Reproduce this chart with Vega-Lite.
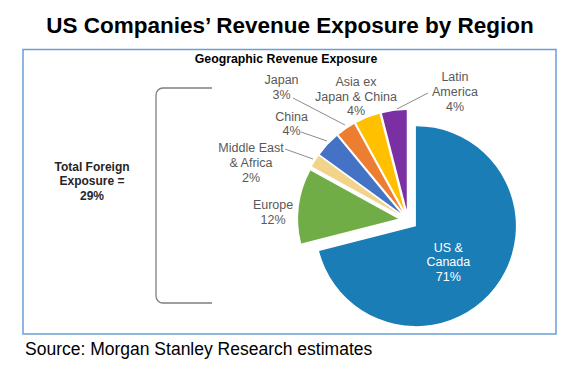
{
  "$schema": "https://vega.github.io/schema/vega-lite/v6.json",
  "width": 572,
  "height": 369,
  "autosize": {"type": "none"},
  "padding": 0,
  "background": "white",
  "config": {"view": {"stroke": null}, "font": "Liberation Sans"},
  "data": {
    "values": [
      {"idx": 1, "region": "US & Canada", "share": 71, "label": "US &\nCanada\n71%"},
      {"idx": 2, "region": "Europe", "share": 12, "label": "Europe\n12%"},
      {"idx": 3, "region": "Middle East & Africa", "share": 2, "label": "Middle East\n& Africa\n2%"},
      {"idx": 4, "region": "China", "share": 4, "label": "China\n4%"},
      {"idx": 5, "region": "Japan", "share": 3, "label": "Japan\n3%"},
      {"idx": 6, "region": "Asia ex Japan & China", "share": 4, "label": "Asia ex\nJapan & China\n4%"},
      {"idx": 7, "region": "Latin America", "share": 4, "label": "Latin\nAmerica\n4%"}
    ]
  },
  "layer": [
    {
      "data": {"values": [{}]},
      "mark": {"type": "rect", "filled": false, "stroke": "#6b9fd4", "strokeWidth": 1.5},
      "encoding": {
        "x": {"datum": 23, "type": "quantitative", "scale": {"domain": [0, 572], "nice": false, "zero": false}, "axis": null},
        "x2": {"datum": 556},
        "y": {"datum": 49.5, "type": "quantitative", "scale": {"domain": [0, 369], "nice": false, "zero": false, "reverse": true}, "axis": null},
        "y2": {"datum": 334}
      }
    },
    {
      "data": {"values": [{}]},
      "mark": {"type": "rect", "filled": false, "stroke": "#7f7f7f", "strokeWidth": 1.3, "cornerRadiusTopLeft": 7, "cornerRadiusBottomLeft": 7, "strokeDash": [49, 215, 320]},
      "encoding": {
        "x": {"datum": 156, "type": "quantitative"},
        "x2": {"datum": 212},
        "y": {"datum": 88, "type": "quantitative"},
        "y2": {"datum": 303}
      }
    },
    {
      "data": {"values": [{}]},
      "mark": {"type": "rule", "stroke": "#8c8c8c", "strokeWidth": 1},
      "encoding": {"x": {"datum": 293, "type": "quantitative"}, "y": {"datum": 98, "type": "quantitative"}, "x2": {"datum": 345}, "y2": {"datum": 125}}
    },
    {
      "data": {"values": [{}]},
      "mark": {"type": "rule", "stroke": "#8c8c8c", "strokeWidth": 1},
      "encoding": {"x": {"datum": 301, "type": "quantitative"}, "y": {"datum": 132, "type": "quantitative"}, "x2": {"datum": 327}, "y2": {"datum": 141}}
    },
    {
      "data": {"values": [{}]},
      "mark": {"type": "rule", "stroke": "#8c8c8c", "strokeWidth": 1},
      "encoding": {"x": {"datum": 285, "type": "quantitative"}, "y": {"datum": 149, "type": "quantitative"}, "x2": {"datum": 313}, "y2": {"datum": 159}}
    },
    {
      "data": {"values": [{}]},
      "mark": {"type": "rule", "stroke": "#8c8c8c", "strokeWidth": 1},
      "encoding": {"x": {"datum": 428, "type": "quantitative"}, "y": {"datum": 93, "type": "quantitative"}, "x2": {"datum": 397}, "y2": {"datum": 109}}
    },
    {
      "mark": {
        "type": "arc",
        "outerRadius": 100,
        "xOffset": {"expr": "10*sin(PI*(datum.share_start+datum.share_end)/100)"},
        "yOffset": {"expr": "-10*cos(PI*(datum.share_start+datum.share_end)/100)"}
      },
      "encoding": {
        "theta": {"field": "share", "type": "quantitative", "stack": true},
        "order": {"field": "idx", "type": "quantitative"},
        "color": {
          "field": "region", "type": "nominal", "legend": null,
          "scale": {
            "domain": ["US & Canada", "Europe", "Middle East & Africa", "China", "Japan", "Asia ex Japan & China", "Latin America"],
            "range": ["#1b7db5", "#70ad47", "#f1d38a", "#4472c4", "#ed7d31", "#ffc000", "#7a30a3"]
          }
        },
        "x": {"datum": 408, "type": "quantitative"},
        "y": {"datum": 220, "type": "quantitative"}
      }
    },
    {
      "mark": {"type": "text", "radius": 58, "dx": -5.5, "dy": -7.8, "fontSize": 12.5, "lineHeight": 14.7, "lineBreak": "\n", "fill": "white", "align": "center", "baseline": "middle"},
      "encoding": {
        "theta": {"field": "share", "type": "quantitative", "stack": true},
        "order": {"field": "idx", "type": "quantitative"},
        "x": {"datum": 408, "type": "quantitative"},
        "y": {"datum": 220, "type": "quantitative"},
        "text": {"condition": {"test": "datum.region === 'US & Canada'", "field": "label"}, "value": ""}
      }
    },
    {
      "mark": {"type": "text", "radius": 135, "dx": -1, "dy": 2, "fontSize": 12.5, "lineHeight": 14.7, "lineBreak": "\n", "fill": "#595959", "align": "center", "baseline": "middle"},
      "encoding": {
        "theta": {"field": "share", "type": "quantitative", "stack": true},
        "order": {"field": "idx", "type": "quantitative"},
        "x": {"datum": 408, "type": "quantitative"},
        "y": {"datum": 220, "type": "quantitative"},
        "text": {"condition": {"test": "datum.region === 'Europe'", "field": "label"}, "value": ""}
      }
    },
    {
      "mark": {"type": "text", "radius": 165, "dx": -17.7, "dy": 16.7, "fontSize": 12.5, "lineHeight": 14.7, "lineBreak": "\n", "fill": "#595959", "align": "center", "baseline": "middle"},
      "encoding": {
        "theta": {"field": "share", "type": "quantitative", "stack": true},
        "order": {"field": "idx", "type": "quantitative"},
        "x": {"datum": 408, "type": "quantitative"},
        "y": {"datum": 220, "type": "quantitative"},
        "text": {"condition": {"test": "datum.region === 'Middle East & Africa'", "field": "label"}, "value": ""}
      }
    },
    {
      "mark": {"type": "text", "radius": 151, "dx": -6.4, "dy": 0, "fontSize": 12.5, "lineHeight": 14.7, "lineBreak": "\n", "fill": "#595959", "align": "center", "baseline": "middle"},
      "encoding": {
        "theta": {"field": "share", "type": "quantitative", "stack": true},
        "order": {"field": "idx", "type": "quantitative"},
        "x": {"datum": 408, "type": "quantitative"},
        "y": {"datum": 220, "type": "quantitative"},
        "text": {"condition": {"test": "datum.region === 'China'", "field": "label"}, "value": ""}
      }
    },
    {
      "mark": {"type": "text", "radius": 183, "dx": -23.6, "dy": 11.3, "fontSize": 12.5, "lineHeight": 14.7, "lineBreak": "\n", "fill": "#595959", "align": "center", "baseline": "middle"},
      "encoding": {
        "theta": {"field": "share", "type": "quantitative", "stack": true},
        "order": {"field": "idx", "type": "quantitative"},
        "x": {"datum": 408, "type": "quantitative"},
        "y": {"datum": 220, "type": "quantitative"},
        "text": {"condition": {"test": "datum.region === 'Japan'", "field": "label"}, "value": ""}
      }
    },
    {
      "mark": {"type": "text", "radius": 134, "dx": -2.7, "dy": -13.4, "fontSize": 12.5, "lineHeight": 14.7, "lineBreak": "\n", "fill": "#595959", "align": "center", "baseline": "middle"},
      "encoding": {
        "theta": {"field": "share", "type": "quantitative", "stack": true},
        "order": {"field": "idx", "type": "quantitative"},
        "x": {"datum": 408, "type": "quantitative"},
        "y": {"datum": 220, "type": "quantitative"},
        "text": {"condition": {"test": "datum.region === 'Asia ex Japan & China'", "field": "label"}, "value": ""}
      }
    },
    {
      "mark": {"type": "text", "radius": 136, "dx": 64, "dy": -7.8, "fontSize": 12.5, "lineHeight": 14.7, "lineBreak": "\n", "fill": "#595959", "align": "center", "baseline": "middle"},
      "encoding": {
        "theta": {"field": "share", "type": "quantitative", "stack": true},
        "order": {"field": "idx", "type": "quantitative"},
        "x": {"datum": 408, "type": "quantitative"},
        "y": {"datum": 220, "type": "quantitative"},
        "text": {"condition": {"test": "datum.region === 'Latin America'", "field": "label"}, "value": ""}
      }
    },
    {
      "data": {"values": [{}]},
      "mark": {"type": "text", "fontSize": 22.5, "fontWeight": "bold", "fill": "black", "align": "center", "baseline": "alphabetic"},
      "encoding": {"x": {"datum": 290, "type": "quantitative"}, "y": {"datum": 33, "type": "quantitative"}, "text": {"value": "US Companies’ Revenue Exposure by Region"}}
    },
    {
      "data": {"values": [{}]},
      "mark": {"type": "text", "fontSize": 12.3, "fontWeight": "bold", "fill": "black", "align": "center", "baseline": "alphabetic"},
      "encoding": {"x": {"datum": 286, "type": "quantitative"}, "y": {"datum": 63, "type": "quantitative"}, "text": {"value": "Geographic Revenue Exposure"}}
    },
    {
      "data": {"values": [{}]},
      "mark": {"type": "text", "fontSize": 12, "fontWeight": "bold", "fill": "#262626", "align": "center", "baseline": "middle", "lineBreak": "\n", "lineHeight": 14.5},
      "encoding": {"x": {"datum": 92, "type": "quantitative"}, "y": {"datum": 166.5, "type": "quantitative"}, "text": {"value": "Total Foreign\nExposure =\n29%"}}
    },
    {
      "data": {"values": [{}]},
      "mark": {"type": "text", "fontSize": 17.5, "fill": "black", "align": "left", "baseline": "alphabetic"},
      "encoding": {"x": {"datum": 25, "type": "quantitative"}, "y": {"datum": 355, "type": "quantitative"}, "text": {"value": "Source: Morgan Stanley Research estimates"}}
    }
  ]
}
